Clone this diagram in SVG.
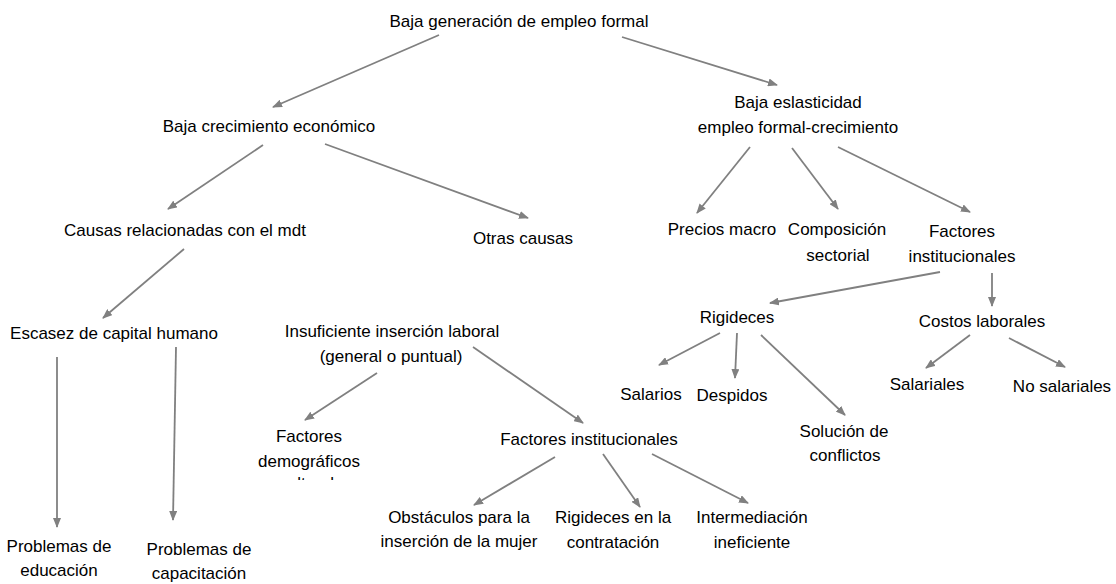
<svg xmlns="http://www.w3.org/2000/svg" width="1116" height="584" viewBox="0 0 1116 584">
<style>
text{font-family:"Liberation Sans",Arial,sans-serif;font-size:17px;fill:#000;text-anchor:middle}
.c line{stroke:#808080;stroke-width:1.8;marker-end:url(#ah)}
</style>
<defs>
<marker id="ah" markerUnits="userSpaceOnUse" markerWidth="10" markerHeight="8" refX="9" refY="4" orient="auto"><path d="M0,0 L10,4 L0,8 z" fill="#808080"/></marker>
<clipPath id="clipdem"><rect x="240" y="420" width="140" height="60"/></clipPath>
</defs>
<rect width="1116" height="584" fill="#fff"/>
<g class="c" id="connectors">
<line x1="439" y1="35" x2="273" y2="107"/>
<line x1="622" y1="37" x2="777" y2="85"/>
<line x1="263" y1="145" x2="168" y2="209"/>
<line x1="325" y1="144" x2="528" y2="218"/>
<line x1="750" y1="147" x2="697" y2="213"/>
<line x1="792" y1="148" x2="838" y2="209"/>
<line x1="838" y1="147" x2="970" y2="212"/>
<line x1="184" y1="249" x2="103" y2="318"/>
<line x1="57" y1="357" x2="57" y2="527"/>
<line x1="176" y1="347" x2="173" y2="520"/>
<line x1="940" y1="272" x2="770" y2="303"/>
<line x1="992" y1="273" x2="992" y2="306"/>
<line x1="720" y1="333" x2="659" y2="365"/>
<line x1="737" y1="333" x2="735" y2="378"/>
<line x1="761" y1="335" x2="845" y2="415"/>
<line x1="970" y1="335" x2="926" y2="368"/>
<line x1="1009" y1="338" x2="1065" y2="367"/>
<line x1="377" y1="373" x2="305" y2="420"/>
<line x1="473" y1="347" x2="583" y2="423"/>
<line x1="555" y1="457" x2="474" y2="505"/>
<line x1="603" y1="454" x2="640" y2="507"/>
<line x1="652" y1="454" x2="748" y2="503"/>
</g>
<g id="n1"><text x="519" y="27">Baja generación de empleo formal</text></g>
<g id="n2"><text x="269" y="132">Baja crecimiento económico</text></g>
<g id="n3"><text x="798" y="108">Baja eslasticidad</text><text x="798" y="133">empleo formal-crecimiento</text></g>
<g id="n4"><text x="185" y="236">Causas relacionadas con el mdt</text></g>
<g id="n5"><text x="523" y="244">Otras causas</text></g>
<g id="n6"><text x="722" y="235">Precios macro</text></g>
<g id="n7"><text x="837" y="235">Composición</text><text x="838" y="261">sectorial</text></g>
<g id="n8"><text x="962" y="237">Factores</text><text x="962" y="262">institucionales</text></g>
<g id="n9"><text x="737" y="323">Rigideces</text></g>
<g id="n10"><text x="982" y="327">Costos laborales</text></g>
<g id="n11"><text x="651" y="400">Salarios</text></g>
<g id="n12"><text x="732" y="401">Despidos</text></g>
<g id="n13"><text x="844" y="437">Solución de</text><text x="845" y="461">conflictos</text></g>
<g id="n14"><text x="927" y="390">Salariales</text></g>
<g id="n15"><text x="1062" y="392">No salariales</text></g>
<g id="n16"><text x="114" y="339">Escasez de capital humano</text></g>
<g id="n17"><text x="59" y="552">Problemas de</text><text x="59" y="576">educación</text></g>
<g id="n18"><text x="199" y="555">Problemas de</text><text x="199" y="579">capacitación</text></g>
<g id="n19"><text x="392" y="337">Insuficiente inserción laboral</text><text x="391" y="362">(general o puntual)</text></g>
<g id="n20" clip-path="url(#clipdem)"><text x="309" y="442">Factores</text><text x="309" y="467">demográficos</text><text x="309" y="489">y culturales</text></g>
<g id="n21"><text x="589" y="445">Factores institucionales</text></g>
<g id="n22"><text x="459" y="523">Obstáculos para la</text><text x="459" y="547">inserción de la mujer</text></g>
<g id="n23"><text x="613" y="523">Rigideces en la</text><text x="613" y="548">contratación</text></g>
<g id="n24"><text x="752" y="523">Intermediación</text><text x="752" y="548">ineficiente</text></g>
</svg>
